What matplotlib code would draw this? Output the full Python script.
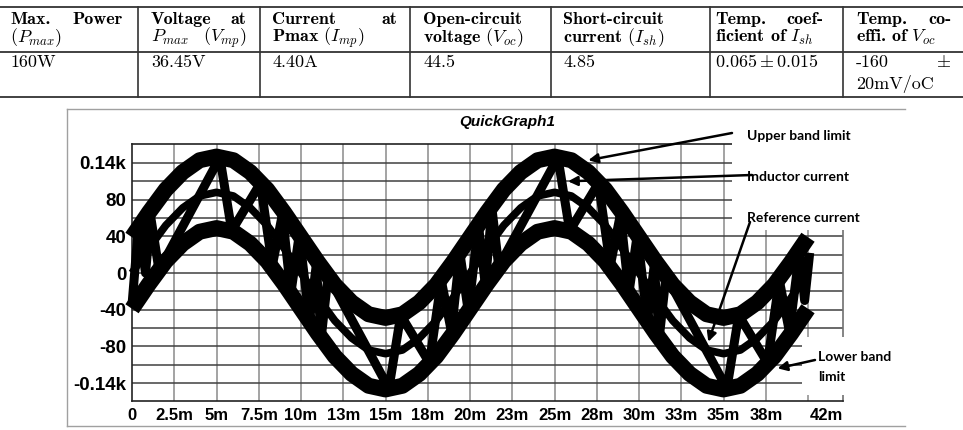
# Se importan las librerias para la grafica.
import matplotlib
matplotlib.use('Agg')
from matplotlib import pyplot as plt
from matplotlib.lines import Line2D
from matplotlib.patches import Rectangle

W, H = 963, 430

# Datos de la simulacion (tiempo en ms, corriente en unidades de la grafica).
t_ms = [0, 1, 2, 3, 4, 5, 6, 7, 8, 9, 10, 11, 12, 13, 14, 15, 16, 17, 18, 19,
        20, 21, 22, 23, 24, 25, 26, 27, 28, 29, 30, 31, 32, 33, 34, 35, 36, 37, 38, 39, 40]
reference = [0, 27, 52, 71, 84, 88, 84, 71, 52, 27, 0, -27, -52, -71, -84, -88, -84, -71, -52, -27,
             0, 27, 52, 71, 84, 88, 84, 71, 52, 27, 0, -27, -52, -71, -84, -88, -84, -71, -52, -27, 0]
upper_band = [39, 66, 91, 110, 123, 127, 123, 110, 91, 66, 39, 12, -13, -32, -45, -49, -45, -32, -13, 12,
              39, 66, 91, 110, 123, 127, 123, 110, 91, 66, 39, 12, -13, -32, -45, -49, -45, -32, -13, 12, 39]
lower_band = [-39, -12, 13, 32, 45, 49, 45, 32, 13, -12, -39, -66, -91, -110, -123, -127, -123, -110, -91, -66,
              -39, -12, 13, 32, 45, 49, 45, 32, 13, -12, -39, -66, -91, -110, -123, -127, -123, -110, -91, -66, -39]

inductor_t = [0.0, 0.4, 0.8, 1.1, 1.6, 5.2, 5.9, 7.6, 8.3, 8.9, 9.4, 9.9, 10.5,
              10.9, 11.2, 11.6, 15.2, 15.9, 17.6, 18.3, 18.9, 19.4, 19.9, 20.5,
              20.9, 21.3, 21.7, 25.2, 25.9, 27.6, 28.3, 28.9, 29.4, 29.9, 30.5,
              30.9, 31.2, 31.6, 35.2, 35.9, 37.6, 38.3, 38.9, 39.5, 39.8, 40.1]
inductor_i = [-35, 55, 0, 62, 3, 126, 46, 98, 8, 64, -22, 42, -52,
              8, -70, -3, -126, -46, -98, -8, -64, 22, -42, 52,
              -12, 70, 7, 126, 46, 98, 8, 64, -22, 42, -52,
              8, -70, -3, -126, -46, -98, -8, -64, 24, -30, 22]

# Ejes y etiquetas.
x_ticks = [0, 2.5, 5, 7.5, 10, 12.5, 15, 17.5, 20, 22.5, 25, 27.5, 30, 32.5, 35, 37.5, 41.1]
x_labels = ['0', '2.5m', '5m', '7.5m', '10m', '13m', '15m', '18m', '20m', '23m', '25m',
            '28m', '30m', '33m', '35m', '38m', '42m']
x_grid = [2.5, 5, 7.5, 10, 12.5, 15, 17.5, 20, 22.5, 25, 27.5, 30, 32.5, 35, 37.5, 40]
y_ticks = [120, 80, 40, 0, -40, -80, -120]
y_labels = ['0.14k', '80', '40', '0', '-40', '-80', '-0.14k']
y_grid = [-120, -100, -80, -60, -40, -20, 0, 20, 40, 60, 80, 100, 120]

# Tabla de parametros del panel.
col_lines = [138, 260, 410, 551, 710, 843]
row_lines = [7, 52, 97]


def fx(x):
    return x / W


def fy(y):
    return 1 - y / H


def draw_table(fig):
    # Se dibujan las reglas de la tabla.
    for y in row_lines:
        fig.add_artist(Line2D([0, 1], [fy(y), fy(y)], color='#333333', lw=1.3))
    for x in col_lines:
        fig.add_artist(Line2D([fx(x), fx(x)], [fy(7), fy(97)], color='#333333', lw=1.2))

    fs = 13
    b = dict(family='cmb10', fontsize=fs, va='baseline')
    r = dict(family='cmr10', fontsize=fs, va='baseline')

    # Encabezados (primera linea).
    fig.text(fx(10), fy(24), 'Max.', **b)
    fig.text(fx(123), fy(24), 'Power', ha='right', **b)
    fig.text(fx(151), fy(24), 'Voltage', **b)
    fig.text(fx(246), fy(24), 'at', ha='right', **b)
    fig.text(fx(272), fy(24), 'Current', **b)
    fig.text(fx(397), fy(24), 'at', ha='right', **b)
    fig.text(fx(423), fy(24), 'Open-circuit', **b)
    fig.text(fx(563), fy(24), 'Short-circuit', **b)
    fig.text(fx(715), fy(24), 'Temp.', **b)
    fig.text(fx(823), fy(24), 'coef-', ha='right', **b)
    fig.text(fx(856), fy(24), 'Temp.', **b)
    fig.text(fx(951), fy(24), 'co-', ha='right', **b)

    # Encabezados (segunda linea).
    fig.text(fx(10), fy(42), r'$(P_{max})$', **r)
    fig.text(fx(151), fy(42), r'$P_{max}$', **r)
    fig.text(fx(246), fy(42), r'$(V_{mp})$', ha='right', **r)
    fig.text(fx(272), fy(42), r'Pmax $(I_{mp})$', **b)
    fig.text(fx(423), fy(42), r'voltage $(V_{oc})$', **b)
    fig.text(fx(563), fy(42), r'current $(I_{sh})$', **b)
    fig.text(fx(715), fy(42), r'ficient of $I_{sh}$', **b)
    fig.text(fx(856), fy(42), r'effi. of $V_{oc}$', **b)

    # Fila de datos.
    fig.text(fx(10), fy(67), '160W', **r)
    fig.text(fx(151), fy(67), '36.45V', **r)
    fig.text(fx(272), fy(67), '4.40A', **r)
    fig.text(fx(423), fy(67), '44.5', **r)
    fig.text(fx(563), fy(67), '4.85', **r)
    fig.text(fx(715), fy(67), r'$0.065 \pm 0.015$', **r)
    fig.text(fx(856), fy(67), '-160', **r)
    fig.text(fx(951), fy(67), r'$\pm$', ha='right', **r)
    fig.text(fx(856), fy(89), '20mV/oC', **r)


def main():
    plt.rcParams['mathtext.fontset'] = 'cm'
    fig = plt.figure(figsize=(W / 100, H / 100), dpi=100)

    draw_table(fig)

    # Marco exterior de la grafica.
    gray = '#a0a0a0'
    fig.add_artist(Line2D([fx(67), fx(905)], [fy(109), fy(109)], color=gray, lw=1))
    fig.add_artist(Line2D([fx(67), fx(905)], [fy(426), fy(426)], color=gray, lw=1))
    fig.add_artist(Line2D([fx(67), fx(67)], [fy(109), fy(426)], color=gray, lw=1))

    ax = fig.add_axes([fx(132), fy(401), (843 - 132) / W, (401 - 144) / H])
    ax.set_xlim(0, 42.07)
    ax.set_ylim(-139.6, 140.7)

    # Rejilla (sin quitar las lineas que coinciden con las etiquetas).
    ax.xaxis.remove_overlapping_locs = False
    ax.yaxis.remove_overlapping_locs = False
    ax.set_xticks(x_grid, minor=True)
    ax.set_yticks(y_grid, minor=True)
    ax.grid(False)
    ax.xaxis.grid(True, which='minor', color='#8a8a8a', lw=1.1)
    ax.yaxis.grid(True, which='minor', color='#404040', lw=1.1)
    ax.set_axisbelow(True)

    ax.set_xticks(x_ticks)
    ax.set_xticklabels(x_labels, fontsize=12, fontweight='bold', family='Liberation Sans')
    ax.set_yticks(y_ticks)
    ax.set_yticklabels(y_labels, fontsize=13.5, fontweight='bold', family='Liberation Sans')
    ax.tick_params(which='both', length=0)
    ax.tick_params(axis='x', pad=5)
    ax.tick_params(axis='y', pad=4)
    for s in ax.spines.values():
        s.set_color('#222222')
        s.set_linewidth(1.2)
    ax.spines['right'].set_color('#707070')

    # Zonas blancas de las anotaciones.
    ax.add_patch(Rectangle((fx(732), fy(230)), fx(905) - fx(732), fy(111) - fy(230),
                           transform=fig.transFigure, facecolor='white', edgecolor='none',
                           clip_on=False, zorder=3))
    ax.add_patch(Rectangle((fx(802), fy(395)), fx(905) - fx(802), fy(337) - fy(395),
                           transform=fig.transFigure, facecolor='white', edgecolor='none',
                           clip_on=False, zorder=3))

    # Curvas.
    ax.plot(t_ms, upper_band, color='black', lw=11.5, solid_capstyle='butt',
            solid_joinstyle='round', clip_on=False, zorder=4)
    ax.plot(t_ms, lower_band, color='black', lw=11.5, solid_capstyle='butt',
            solid_joinstyle='round', clip_on=False, zorder=4)
    ax.plot(t_ms, reference, color='black', lw=5.5, solid_capstyle='butt',
            solid_joinstyle='round', clip_on=False, zorder=4)
    ax.plot(inductor_t, inductor_i, color='black', lw=6.5, solid_capstyle='butt',
            solid_joinstyle='round', clip_on=False, zorder=4)

    # Titulo.
    fig.text(fx(507), fy(122), 'QuickGraph1', ha='center', va='center', fontsize=11,
             fontweight='bold', fontstyle='italic', family='Liberation Sans')

    # Anotaciones con flechas.
    arrow = dict(arrowstyle='-|>', color='black', lw=1.8, mutation_scale=14,
                 shrinkA=0, shrinkB=0)
    notes = [('Upper band limit', (747, 136), (732, 133), (27.0, 123)),
             ('Inductor current', (747, 177), (752, 175), (25.8, 100)),
             ('Reference current', (747, 218), (750, 222), (34.1, -75)),
             ('Lower band\n\nlimit', (818, 367), (815, 360), (38.2, -104))]
    for text, pos, start, tip in notes:
        ax.annotate('', xy=tip, xycoords='data', xytext=(fx(start[0]), fy(start[1])),
                    textcoords='figure fraction', arrowprops=arrow, zorder=5,
                    annotation_clip=False)
        ax.text(fx(pos[0]), fy(pos[1]), text, transform=fig.transFigure, ha='left',
                va='center', fontsize=10, fontweight='bold', family='Lato',
                linespacing=0.8, zorder=6)

    fig.savefig('out.png', dpi=100)


if __name__ == '__main__':
    main()
